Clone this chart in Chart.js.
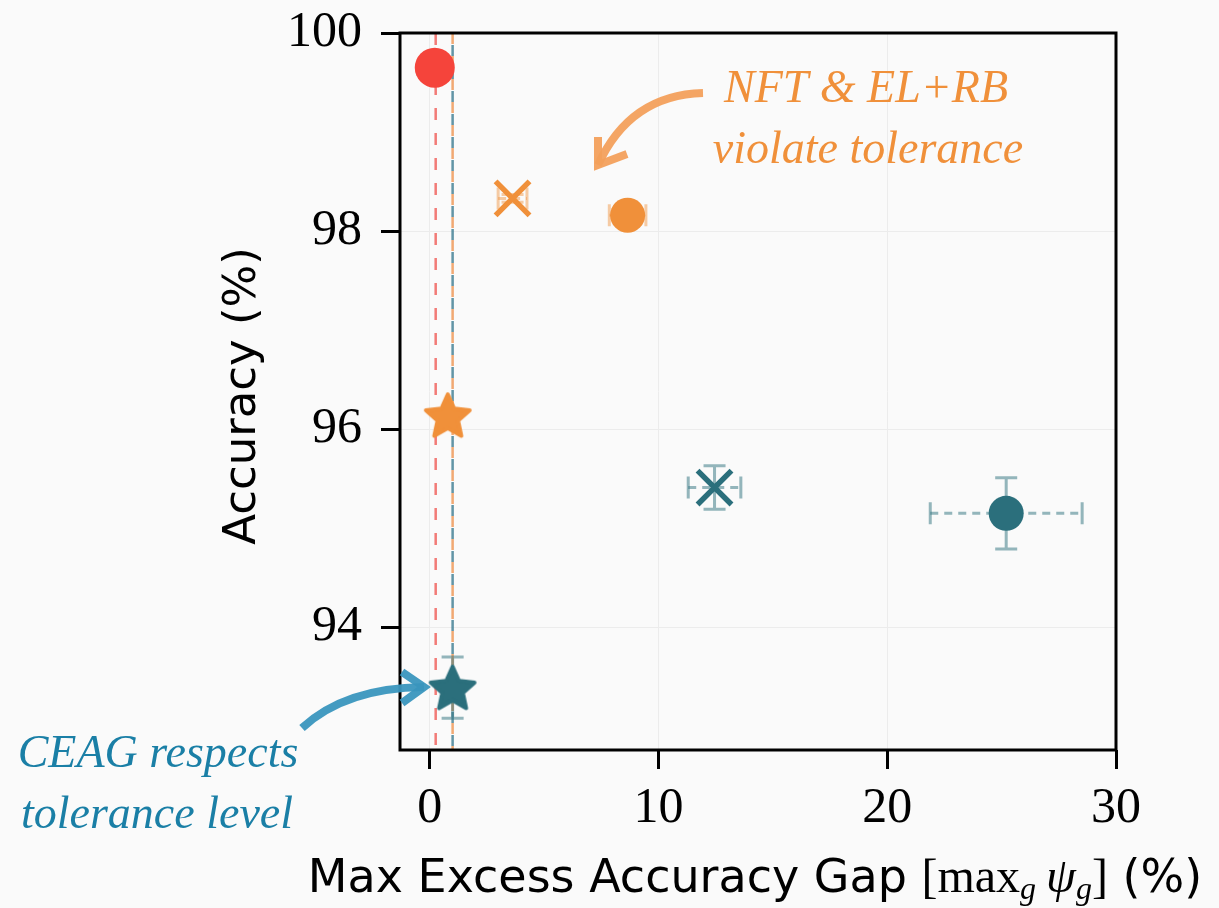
<!DOCTYPE html>
<html>
<head>
<meta charset="utf-8">
<script src="https://cdn.jsdelivr.net/npm/chart.js@4.4.1/dist/chart.umd.min.js"></script>
<style>
  html, body { margin: 0; padding: 0; background: #fafafa; }
  #wrap { position: relative; width: 1219px; height: 908px; }
</style>
</head>
<body>
<div id="wrap"><canvas id="chart"></canvas></div>
<script>
// markers: star = CEAG, X = NFT, circle = EL+RB
const methods = ['CEAG', 'NFT', 'EL+RB'];

// orange setting
const orangeGap = [0.79, 3.62, 8.65];
const orangeAcc = [96.14, 98.33, 98.16];
const orangeGapErr = [0.1, 0.63, 0.8];
const orangeAccErr = [0.03, 0.04, 0.04];

// teal setting
const tealGap = [1.0, 12.45, 25.2];
const tealAcc = [93.39, 95.41, 95.15];
const tealGapErr = [0.12, 1.15, 3.32];
const tealAccErr = [0.31, 0.22, 0.36];

// red point (top left)
const redGap = [0.22];
const redAcc = [99.65];

// tolerance levels (dashed vertical lines): red, orange, teal
const tolerances = [0.26, 1.0, 1.0];

const xTicks = [0, 10, 20, 30];
const yTicks = [94, 96, 98, 100];

const ORANGE = '#f0903a';
const TEAL = '#2b6f7c';
const RED = '#f5443b';

function makeStar(color, size) {
    const c = document.createElement('canvas');
    c.width = size;
    c.height = size;
    const g = c.getContext('2d');
    const cx = size / 2, cy = size / 2 + 2;
    const R = size / 2 - 3, r = R * 0.47;
    g.beginPath();
    for (let i = 0; i < 10; i++) {
        const a = -Math.PI / 2 + i * Math.PI / 5;
        const rad = i % 2 ? r : R;
        const px = cx + Math.cos(a) * rad, py = cy + Math.sin(a) * rad;
        if (i === 0) g.moveTo(px, py); else g.lineTo(px, py);
    }
    g.closePath();
    g.fillStyle = color;
    g.fill();
    g.lineJoin = 'round';
    g.lineWidth = 4;
    g.strokeStyle = color;
    g.stroke();
    return c;
}

const orangeStar = makeStar(ORANGE, 52);
const tealStar = makeStar(TEAL, 52);

function toPoints(xs, ys) {
    return xs.map((x, i) => ({ x: x, y: ys[i] }));
}

const errors = {
    1: { xe: orangeGapErr, ye: orangeAccErr, color: 'rgba(240,144,58,0.45)' },
    2: { xe: tealGapErr, ye: tealAccErr, color: 'rgba(43,111,124,0.5)' }
};

// dashed tolerance lines
const toleranceLines = {
    id: 'toleranceLines',
    beforeDatasetsDraw(chart) {
        const ctx = chart.ctx, a = chart.chartArea, xs = chart.scales.x;
        const styles = [
            { color: 'rgba(240,100,95,0.85)', dash: [12, 13], off: 0 },
            { color: 'rgba(240,160,100,0.9)', dash: [11, 12], off: 0 },
            { color: 'rgba(70,130,150,0.85)', dash: [11, 12], off: 11 }
        ];
        tolerances.forEach((t, i) => {
            const px = xs.getPixelForValue(t);
            ctx.save();
            ctx.strokeStyle = styles[i].color;
            ctx.lineWidth = 2.5;
            ctx.setLineDash(styles[i].dash);
            ctx.lineDashOffset = styles[i].off;
            ctx.beginPath();
            ctx.moveTo(px, a.top);
            ctx.lineTo(px, a.bottom);
            ctx.stroke();
            ctx.restore();
        });
    }
};

// error bars
const errorBars = {
    id: 'errorBars',
    beforeDatasetsDraw(chart) {
        const ctx = chart.ctx, xs = chart.scales.x, ys = chart.scales.y;
        Object.keys(errors).forEach(k => {
            const e = errors[k];
            chart.data.datasets[k].data.forEach((p, i) => {
                const cx = xs.getPixelForValue(p.x), cy = ys.getPixelForValue(p.y);
                const x0 = xs.getPixelForValue(p.x - e.xe[i]), x1 = xs.getPixelForValue(p.x + e.xe[i]);
                const y0 = ys.getPixelForValue(p.y - e.ye[i]), y1 = ys.getPixelForValue(p.y + e.ye[i]);
                ctx.save();
                ctx.strokeStyle = e.color;
                ctx.lineWidth = 3;
                ctx.setLineDash([8, 6]);
                ctx.beginPath();
                ctx.moveTo(x0, cy); ctx.lineTo(x1, cy);
                ctx.stroke();
                ctx.setLineDash([]);
                ctx.beginPath();
                ctx.moveTo(cx, y0); ctx.lineTo(cx, y1);
                ctx.moveTo(x0, cy - 11); ctx.lineTo(x0, cy + 11);
                ctx.moveTo(x1, cy - 11); ctx.lineTo(x1, cy + 11);
                ctx.moveTo(cx - 11, y0); ctx.lineTo(cx + 11, y0);
                ctx.moveTo(cx - 11, y1); ctx.lineTo(cx + 11, y1);
                ctx.stroke();
                ctx.restore();
            });
        });
    }
};

function arrow(ctx, color, x0, y0, cx, cy, x1, y1, h1, h2) {
    ctx.save();
    ctx.strokeStyle = color;
    ctx.lineWidth = 8;
    ctx.beginPath();
    ctx.moveTo(x0, y0);
    ctx.quadraticCurveTo(cx, cy, x1, y1);
    ctx.stroke();
    ctx.beginPath();
    ctx.moveTo(h1[0], h1[1]);
    ctx.lineTo(x1, y1);
    ctx.lineTo(h2[0], h2[1]);
    ctx.stroke();
    ctx.restore();
}

// frame, axis titles, notes
const decorations = {
    id: 'decorations',
    afterDraw(chart) {
        const ctx = chart.ctx, a = chart.chartArea;
        ctx.save();
        ctx.strokeStyle = '#000';
        ctx.lineWidth = 3;
        ctx.strokeRect(a.left, a.top, a.right - a.left, a.bottom - a.top);

        // y title
        ctx.fillStyle = '#000';
        ctx.font = '45px "DejaVu Sans"';
        ctx.textAlign = 'center';
        ctx.textBaseline = 'alphabetic';
        ctx.save();
        ctx.translate(255, 396);
        ctx.rotate(-Math.PI / 2);
        ctx.fillText('Accuracy (%)', 0, 0);
        ctx.restore();

        // x title with subscripts
        const parts = [
            { t: 'Max Excess Accuracy Gap ', f: '46px "DejaVu Sans"', dy: 0 },
            { t: '[max', f: '48px "Liberation Serif"', dy: 0 },
            { t: 'g', f: 'italic 32px "Liberation Serif"', dy: 7 },
            { t: ' ', f: '40px "Liberation Serif"', dy: 0 },
            { t: 'ψ', f: 'italic 48px "Liberation Serif"', dy: 0 },
            { t: 'g', f: 'italic 32px "Liberation Serif"', dy: 7 },
            { t: ']', f: '48px "Liberation Serif"', dy: 0 },
            { t: ' (%)', f: '46px "DejaVu Sans"', dy: 0 }
        ];
        let total = 0;
        parts.forEach(p => { ctx.font = p.f; p.w = ctx.measureText(p.t).width; total += p.w; });
        let x = 755 - total / 2;
        ctx.textAlign = 'left';
        parts.forEach(p => { ctx.font = p.f; ctx.fillText(p.t, x, 892 + p.dy); x += p.w; });

        // notes
        ctx.textAlign = 'center';
        ctx.fillStyle = ORANGE;
        ctx.font = 'italic 46px "Liberation Serif"';
        ctx.fillText('NFT & EL+RB', 866, 102);
        ctx.fillText('violate tolerance', 868, 163);
        ctx.fillStyle = '#1a7fa6';
        ctx.fillText('CEAG respects', 158, 767);
        ctx.fillText('tolerance level', 157, 828);
        ctx.restore();

        arrow(ctx, 'rgba(243,160,92,0.95)', 703, 93, 630, 95, 598, 165, [598, 137], [627, 154]);
        arrow(ctx, 'rgba(58,150,190,0.95)', 302, 728, 345, 688, 424, 687, [402, 672], [402, 703]);
    }
};

new Chart(document.getElementById('chart'), {
    type: 'scatter',
    data: {
        datasets: [
            {
                label: 'red',
                data: toPoints(redGap, redAcc),
                pointStyle: 'circle',
                pointRadius: 20,
                backgroundColor: RED,
                borderColor: RED,
                pointBorderWidth: 0
            },
            {
                label: 'orange',
                data: toPoints(orangeGap, orangeAcc),
                pointStyle: [orangeStar, 'crossRot', 'circle'],
                pointRadius: [22, 24, 17.5],
                backgroundColor: ORANGE,
                borderColor: ORANGE,
                pointBorderWidth: [0, 5.5, 0]
            },
            {
                label: 'teal',
                data: toPoints(tealGap, tealAcc),
                pointStyle: [tealStar, 'crossRot', 'circle'],
                pointRadius: [22, 24, 17.5],
                backgroundColor: TEAL,
                borderColor: TEAL,
                pointBorderWidth: [0, 5.5, 0]
            }
        ]
    },
    options: {
        responsive: true,
        maintainAspectRatio: false,
        animation: false,
        events: [],
        layout: { padding: { left: 0, top: 33, right: 103, bottom: 0 } },
        plugins: {
            legend: { display: false },
            tooltip: { enabled: false }
        },
        scales: {
            x: {
                type: 'linear',
                min: -1.3,
                max: 30,
                afterBuildTicks: s => { s.ticks = xTicks.map(v => ({ value: v })); },
                afterFit: s => { s.height = 158; s.paddingLeft = 0; s.paddingRight = 0; },
                grid: { color: '#ececec', lineWidth: 1, tickLength: 19, tickColor: '#000', tickWidth: 3 },
                border: { display: false },
                ticks: { color: '#000', font: { family: 'Liberation Serif', size: 50 }, padding: 10, maxRotation: 0 }
            },
            y: {
                type: 'linear',
                min: 92.76,
                max: 100,
                afterBuildTicks: s => { s.ticks = yTicks.map(v => ({ value: v })); },
                afterFit: s => { s.width = 400; s.paddingTop = 0; s.paddingBottom = 0; },
                grid: { color: '#ececec', lineWidth: 1, tickLength: 19, tickColor: '#000', tickWidth: 3 },
                border: { display: false },
                ticks: { color: '#000', font: { family: 'Liberation Serif', size: 50 }, padding: 19 }
            }
        }
    },
    plugins: [toleranceLines, errorBars, decorations]
});
</script>
</body>
</html>
